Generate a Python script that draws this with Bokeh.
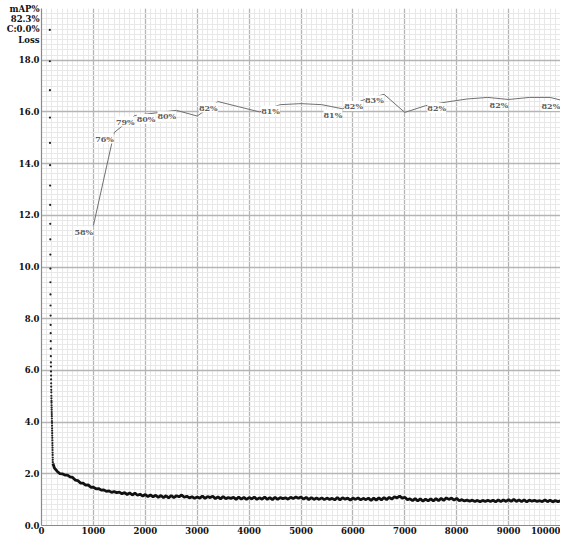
from bokeh.plotting import figure
from bokeh.models import (Range1d, FixedTicker, LabelSet, ColumnDataSource)
from bokeh.embed import file_html
from bokeh.resources import INLINE
from bokeh.core.properties import value

# ---------------- data ----------------
# early iterations (loss drawn as single dots while falling fast)
dot_iter = list(range(160, 219))
dot_loss = [19.17, 17.96, 16.84, 15.78, 14.80, 13.94, 13.15, 12.40, 11.67, 11.07,
            10.48, 9.94, 9.41, 8.94, 8.51, 8.12, 7.76, 7.44, 7.13, 6.84,
            6.55, 6.31, 6.15, 5.96, 5.80, 5.65, 5.50, 5.37, 5.25, 5.15,
            5.02, 4.92, 4.82, 4.75, 4.65, 4.56, 4.48, 4.39, 4.31, 4.23,
            4.14, 4.04, 3.97, 3.86, 3.76, 3.67, 3.57, 3.48, 3.39, 3.29,
            3.19, 3.10, 3.01, 2.92, 2.82, 2.73, 2.63, 2.54, 2.45]

# main loss curve (sampled every 50 iterations)
loss_iter = [220, 250] + list(range(300, 10001, 50))
loss_vals = [2.40, 2.22,
    # 300-950
    2.10, 2.01, 2.00, 1.95, 1.95, 1.88, 1.86, 1.76, 1.74, 1.64, 1.64, 1.56, 1.57, 1.48,
    # 1000-1950
    1.48, 1.42, 1.43, 1.37, 1.38, 1.32, 1.34, 1.28, 1.31, 1.27, 1.29, 1.23, 1.27, 1.20, 1.26, 1.18, 1.25, 1.17, 1.21, 1.14,
    # 2000-2950
    1.20, 1.12, 1.18, 1.11, 1.17, 1.09, 1.16, 1.08, 1.15, 1.07, 1.16, 1.08, 1.15, 1.11, 1.18, 1.09, 1.13, 1.07, 1.11, 1.05,
    # 3000-3950
    1.10, 1.06, 1.14, 1.05, 1.12, 1.08, 1.13, 1.04, 1.11, 1.03, 1.12, 1.04, 1.08, 1.05, 1.09, 1.01, 1.10, 1.02, 1.09, 1.01,
    # 4000-4950
    1.08, 1.03, 1.10, 1.01, 1.07, 1.02, 1.10, 1.01, 1.08, 1.00, 1.09, 1.01, 1.08, 1.04, 1.07, 1.02, 1.09, 1.04, 1.10, 1.05,
    # 5000-5950
    1.10, 1.02, 1.09, 1.00, 1.08, 1.01, 1.06, 1.01, 1.07, 1.00, 1.06, 1.01, 1.05, 0.99, 1.08, 0.99, 1.07, 1.02, 1.06, 0.98,
    # 6000-6950
    1.06, 1.01, 1.07, 0.99, 1.05, 1.00, 1.06, 0.97, 1.06, 0.98, 1.07, 0.99, 1.08, 1.00, 1.09, 1.02, 1.11, 1.07, 1.14, 1.06,
    # 7000-7950
    1.09, 1.00, 1.03, 0.96, 1.04, 0.95, 1.03, 0.94, 1.02, 0.95, 1.03, 0.95, 1.04, 0.96, 1.05, 0.97, 1.07, 1.01, 1.06, 0.98,
    # 8000-8950
    1.05, 0.96, 1.00, 0.95, 0.98, 0.94, 0.98, 0.93, 0.97, 0.92, 0.97, 0.93, 0.98, 0.93, 0.98, 0.91, 0.99, 0.92, 0.99, 0.93,
    # 9000-9950
    1.00, 0.93, 1.01, 0.93, 0.99, 0.92, 0.99, 0.91, 0.98, 0.94, 0.97, 0.93, 0.96, 0.92, 0.99, 0.92, 0.98, 0.91, 0.97, 0.92,
    # 10000
    0.96]

# mAP evaluations (percent)
map_iter = [1000, 1400, 1800, 2200, 2600, 3000, 3400, 3800, 4200, 4600, 5000, 5400,
            5800, 6200, 6600, 7000, 7400, 7800, 8200, 8600, 9000, 9400, 9800, 10000]
map_vals = [58.0, 76.0, 79.3, 79.8, 80.3, 79.2, 82.0, 81.0, 80.0, 81.4, 81.6, 81.4,
            80.6, 82.3, 83.4, 79.9, 81.2, 81.9, 82.5, 82.8, 82.4, 82.8, 82.8, 82.3]
map_labels = ["58%", "76%", "79%", "80%", "80%", "", "82%", "", "", "81%", "", "",
              "81%", "82%", "83%", "", "", "82%", "", "", "82%", "", "", "82%"]

x_ticks = [0, 1000, 2000, 3000, 4000, 5000, 6000, 7000, 8000, 9000, 10000]
y_ticks = [0, 2, 4, 6, 8, 10, 12, 14, 16, 18]
y_tick_labels = ["0.0", "2.0", "4.0", "6.0", "8.0", "10.0", "12.0", "14.0", "16.0", "18.0"]
# header texts stacked at the top of the loss axis
header_texts = ["Loss", "C:0.0%", "82.3%", "mAP%"]
header_pos = [18.8, 19.2, 19.6, 20.0]

assert len(loss_iter) == len(loss_vals)
assert len(dot_iter) == len(dot_loss)

# ---------------- figure ----------------
FONT = "DejaVu Serif"
W, H = 560, 538
p = figure(width=W, height=H, output_backend="svg", toolbar_location=None,
           x_range=Range1d(0, 10000), y_range=Range1d(0, 20),
           min_border_left=41, min_border_right=0, min_border_top=8, min_border_bottom=13)
p.extra_y_ranges = {"map": Range1d(0, 100)}
p.outline_line_color = None
p.background_fill_color = "white"

# axes
p.xaxis.ticker = FixedTicker(ticks=x_ticks)
p.yaxis.ticker = FixedTicker(ticks=y_ticks + header_pos)
overrides = {t: s for t, s in zip(y_ticks, y_tick_labels)}
overrides.update({t: s for t, s in zip(header_pos, header_texts)})
p.yaxis.major_label_overrides = overrides
for ax in (p.xaxis, p.yaxis):
    ax.major_tick_line_color = None
    ax.minor_tick_line_color = None
    ax.major_tick_out = 0
    ax.major_tick_in = 0
    ax.minor_tick_out = 0
    ax.minor_tick_in = 0
    ax.axis_line_color = "#8a8a8a"
    ax.axis_line_width = 1.2
    ax.major_label_text_font = FONT
    ax.major_label_text_font_size = "8.5px"
    ax.major_label_text_font_style = "bold"
    ax.major_label_text_color = "#111111"
    ax.major_label_standoff = 1
p.yaxis.major_label_standoff = 2

# grid: major every 1000 / 2.0, minor every 100 / 0.2
p.xgrid.ticker = FixedTicker(ticks=x_ticks, minor_ticks=list(range(0, 10001, 100)))
p.ygrid.ticker = FixedTicker(ticks=list(range(0, 21, 2)),
                             minor_ticks=[i / 5 for i in range(0, 101)])
p.grid.grid_line_color = "#b5b5b5"
p.grid.grid_line_width = 1.3
p.grid.minor_grid_line_color = "#e8e8e8"
p.grid.minor_grid_line_width = 1

# mAP line (gray, thin) on its own 0-100 scale sharing the frame
p.line(map_iter, map_vals, y_range_name="map", line_color="#707070", line_width=1)

lab_src = ColumnDataSource(dict(
    x=[i for i, t in zip(map_iter, map_labels) if t],
    y=[v for v, t in zip(map_vals, map_labels) if t],
    t=[t for t in map_labels if t]))
p.add_layout(LabelSet(x="x", y="y", text="t", source=lab_src, y_range_name="map",
                      x_offset=-19, y_offset=-9, text_align="left", text_baseline="alphabetic",
                      text_font=value(FONT), text_font_size="8px", text_font_style="bold",
                      text_color="#5e5e5e", background_fill_color="white"))

# loss
p.line(loss_iter, loss_vals, line_color="#111111", line_width=2.8)
p.scatter(dot_iter, dot_loss, size=2.2, color="#222222", line_color=None)

open("out.html", "w").write(file_html(p, INLINE))
